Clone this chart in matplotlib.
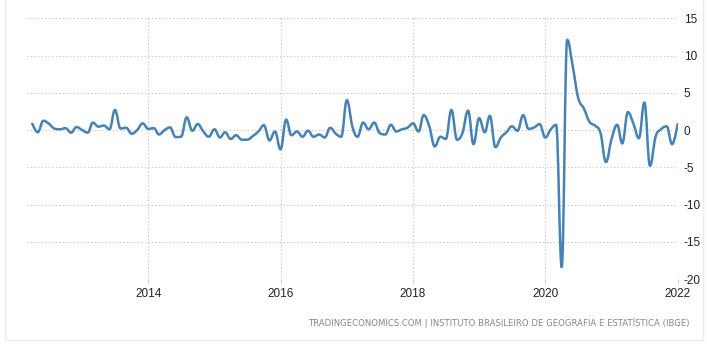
import numpy as np
import pandas as pd
import matplotlib
matplotlib.use('Agg')
import matplotlib.pyplot as plt
import matplotlib.dates as mdates
from matplotlib.path import Path
from matplotlib.patches import PathPatch, Rectangle

plt.rcParams['font.family'] = ['Liberation Sans', 'DejaVu Sans']

# monthly change (%), Apr 2012 .. Jan 2022
v2012 = [0.85, -0.3, 1.25, 0.85, 0.2, 0.1, 0.25, -0.35, 0.4]
v2013 = [0.0, -0.35, 1.0, 0.45, 0.6, 0.1, 2.7, 0.2, 0.3, -0.5, 0.0, 0.9]
v2014 = [0.15, 0.25, -0.6, 0.0, 0.35, -0.95, -0.9, 1.7, -0.1, 0.8, -0.2, -0.9]
v2015 = [0.1, -1.0, -0.3, -1.2, -0.7, -1.3, -1.3, -0.8, -0.2, 0.65, -1.4, -0.2]
v2016 = [-2.6, 1.4, -0.7, -0.2, -0.9, -0.1, -0.9, -0.6, -1.0, 0.3, -0.5, -0.9]
v2017 = [4.0, 0.4, -0.9, 1.0, 0.1, 1.0, -0.4, -0.6, 0.7, -0.2, 0.1, 0.3]
v2018 = [0.9, -0.2, 2.0, 0.5, -2.2, -0.9, -1.2, 2.7, -1.3, -0.4, 2.6, -1.9]
v2019 = [1.6, -0.3, 1.9, -2.3, -1.0, -0.3, 0.5, -0.1, 2.0, 0.15, 0.35, 0.8]
v2020 = [-1.0, 0.1, 0.7, -18.4, 12.1, 8.5, 4.3, 2.9, 1.1, 0.6, -0.4, -4.3]
v2021 = [-1.2, 0.7, -1.8, 2.4, 0.9, -1.1, 3.7, -4.8, -0.9, 0.1, 0.5, -1.9]
v2022 = [0.8]

values = v2012 + v2013 + v2014 + v2015 + v2016 + v2017 + v2018 + v2019 + v2020 + v2021 + v2022
months = pd.date_range('2012-04-01', periods=len(values), freq='MS')

tick_years = [2014, 2016, 2018, 2020, 2022]
y_ticks = [-20, -15, -10, -5, 0, 5, 10, 15]
source = 'TRADINGECONOMICS.COM | INSTITUTO BRASILEIRO DE GEOGRAFIA E ESTATÍSTICA (IBGE)'


def spline_path(x, y, smoothing=1.5):
    # same smoothing rule as a highcharts "spline" series
    denom = smoothing + 1
    verts = [(x[0], y[0])]
    codes = [Path.MOVETO]
    prev_right = (x[0], y[0])
    n = len(x)
    for i in range(1, n):
        px, py = x[i], y[i]
        if i < n - 1:
            lx, ly = x[i - 1], y[i - 1]
            nx, ny = x[i + 1], y[i + 1]
            lcx = (smoothing * px + lx) / denom
            lcy = (smoothing * py + ly) / denom
            rcx = (smoothing * px + nx) / denom
            rcy = (smoothing * py + ny) / denom
            if rcx != lcx:
                corr = (rcy - lcy) * (rcx - px) / (rcx - lcx) + py - rcy
                lcy += corr
                rcy += corr
            if lcy > ly and lcy > py:
                lcy = max(ly, py)
                rcy = 2 * py - lcy
            elif lcy < ly and lcy < py:
                lcy = min(ly, py)
                rcy = 2 * py - lcy
            if rcy > ny and rcy > py:
                rcy = max(ny, py)
                lcy = 2 * py - rcy
            elif rcy < ny and rcy < py:
                rcy = min(ny, py)
                lcy = 2 * py - rcy
        else:
            lcx, lcy, rcx, rcy = px, py, px, py
        verts += [prev_right, (lcx, lcy), (px, py)]
        codes += [Path.CURVE4] * 3
        prev_right = (rcx, rcy)
    return Path(verts, codes)


W, H = 707, 346
fig = plt.figure(figsize=(W / 100, H / 100), dpi=100)
# light frame round the chart (its top edge lies above the picture)
fig.patches.append(Rectangle((4.5 / W, 6.5 / H), (702.5 - 4.5) / W, (360 - 6.5) / H,
                             transform=fig.transFigure, fill=False,
                             edgecolor='#ececec', linewidth=1))

left, right, top, bottom = 26.7, 677.7, 18.3, 279.0
ax = fig.add_axes([left / W, 1 - bottom / H, (right - left) / W, (bottom - top) / H])

x = mdates.date2num(months)
ax.add_patch(PathPatch(spline_path(list(x), values), fill=False,
                       edgecolor='#4682b4', linewidth=1.8, capstyle='round',
                       joinstyle='round', zorder=3))

ax.set_xlim(mdates.date2num(pd.Timestamp('2012-03-01')), mdates.date2num(pd.Timestamp('2022-01-01')))
ax.set_ylim(-20, 15)

for s in ax.spines.values():
    s.set_visible(False)

ax.set_xticks([mdates.date2num(pd.Timestamp(f'{yr}-01-01')) for yr in tick_years])
ax.set_xticklabels([str(yr) for yr in tick_years])
ax.set_yticks(y_ticks)
ax.set_yticklabels([str(v) for v in y_ticks])
ax.yaxis.tick_right()
ax.tick_params(axis='y', length=0, pad=4.5, labelsize=8.5, labelcolor='#222222')
ax.tick_params(axis='x', length=3, width=0.8, color='#cccccc', pad=3.5,
               labelsize=8.5, labelcolor='#222222')
ax.grid(True, color='#c8c8c8', linestyle=(0, (1.2, 2)), linewidth=0.8)
ax.set_axisbelow(True)

fig.text(690 / W, 1 - 323 / H, source, ha='right', va='center',
         fontsize=6.1, color='#888888', family='DejaVu Sans')

fig.savefig('out.png', dpi=100)
